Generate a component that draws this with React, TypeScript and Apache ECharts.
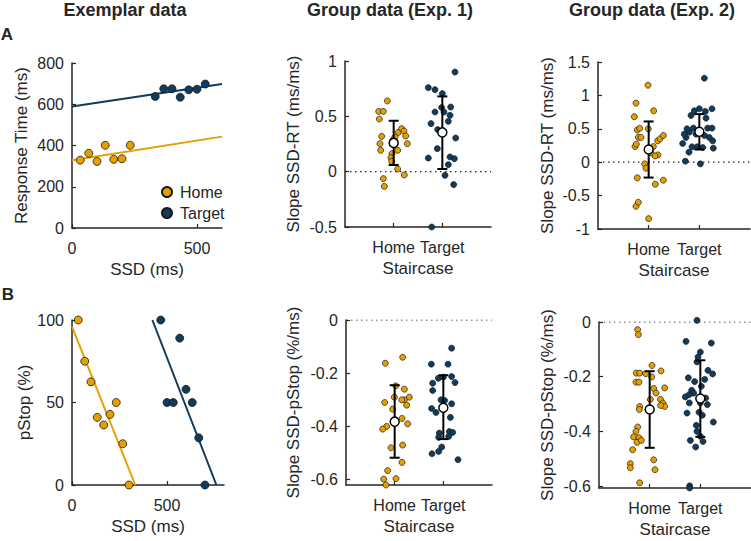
import React, { useEffect, useRef } from "react";
import * as echarts from "echarts";

const HOME = "#E69F00";
const TARGET = "#0F3B5C";
const INK = "#262626";
const FONT = "'Liberation Sans', Arial, Helvetica, sans-serif";

// ---------- Exemplar data (A): SSD vs response time ----------
const rtHomeSSD = [33, 67, 100, 133, 167, 200, 233];
const rtHomeRT = [329, 362, 323, 401, 333, 336, 401];
const rtTargetSSD = [333, 367, 400, 433, 467, 500, 533];
const rtTargetRT = [638, 675, 675, 634, 670, 673, 698];
const rtHomeFit = [[0, 329], [600, 443]];
const rtTargetFit = [[0, 589], [600, 698]];

// ---------- Exemplar data (B): SSD vs pStop ----------
const psHomeSSD = [33, 67, 100, 133, 167, 200, 233, 267, 300];
const psHomeP = [100, 75, 62.5, 41, 36.4, 42.8, 50, 25, 0];
const psTargetSSD = [467, 500, 533, 567, 600, 633, 667, 700];
const psTargetP = [100, 50, 50, 89, 58, 50, 28.6, 0];
const psHomeFit = [[0, 96], [333, 0]];
const psTargetFit = [[423, 100], [760, 0]];

// ---------- Group categories ----------
const staircaseCats = ["Home", "Target"];

// Group Exp. 1, slope SSD-RT: [jittered position, slope]
const e1RtHome = [
  [0.705, 0.476], [0.753, 0.319], [0.719, 0.253], [0.733, 0.193], [0.788, -0.063],
  [0.808, -0.133], [0.692, 0.545], [0.788, 0.545], [0.87, 0.639], [0.966, 0.163],
  [0.945, 0.126], [0.959, 0.093], [0.979, 0.283], [1.027, 0.313], [1.096, 0.355],
  [1.082, 0.193], [1.082, 0.024], [1.164, 0.389], [1.212, 0.367], [1.247, 0.322],
  [1.281, 0.253], [1.219, -0.03],
];
const e1RtTarget = [
  [1.712, 0.759], [1.849, 0.741], [2.0, 0.705], [2.26, 0.9], [1.849, 0.539],
  [1.986, 0.58], [2.034, 0.539], [2.171, 0.584], [2.158, 0.509], [2.123, 0.455],
  [1.767, 0.434], [1.904, 0.38], [1.897, 0.208], [1.712, 0.123], [2.274, 0.304],
  [2.158, 0.133], [2.247, 0.117], [2.123, 0.063], [2.055, -0.033], [2.233, -0.117],
  [1.781, -0.5],
];
const e1RtMean = [0.26, 0.355];
const e1RtLo = [0.06, 0.024];
const e1RtHi = [0.46, 0.68];

// Group Exp. 2, slope SSD-RT
const e2RtHome = [
  [0.987, 1.153], [0.75, 0.885], [0.717, 0.681], [1.099, 0.77], [0.776, 0.482],
  [0.822, 0.507], [0.993, 0.5], [0.796, 0.373], [0.849, 0.37], [0.73, 0.234],
  [0.757, 0.27], [1.092, 0.234], [1.046, 0.14], [1.184, 0.109], [1.125, 0.094],
  [1.178, 0.32], [1.224, 0.35], [1.289, 0.4], [0.921, -0.025], [0.947, -0.09],
  [0.776, -0.234], [1.132, -0.33], [1.289, -0.27], [0.75, -0.66], [0.796, -0.6],
  [1.0, -0.845],
];
const e2RtTarget = [
  [2.099, 1.257], [1.724, 0.015], [2.02, -0.025], [1.796, 0.15], [1.671, 0.28],
  [1.737, 0.37], [1.803, 0.45], [1.882, 0.51], [1.704, 0.42], [1.836, 0.7],
  [1.901, 0.77], [2.0, 0.8], [2.118, 0.76], [2.25, 0.8], [2.132, 0.66],
  [2.164, 0.51], [2.25, 0.51], [2.263, 0.32], [2.276, 0.21], [2.066, 0.22],
  [1.954, 0.23], [1.855, 0.23], [2.197, 0.37], [1.934, 0.42], [2.099, 0.4],
  [1.757, 0.5],
];
const e2RtMean = [0.19, 0.455];
const e2RtLo = [-0.23, 0.19];
const e2RtHi = [0.61, 0.72];

// Group Exp. 1, slope SSD-pStop
const e1PsHome = [
  [0.808, -0.1625], [1.164, -0.14], [1.021, -0.2475], [1.199, -0.26], [1.301, -0.29],
  [1.199, -0.3], [1.144, -0.3], [1.247, -0.32], [0.795, -0.31], [0.959, -0.335],
  [0.993, -0.29], [1.151, -0.37], [1.267, -0.39], [0.836, -0.4], [0.753, -0.41],
  [0.925, -0.48], [1.164, -0.47], [1.151, -0.535], [0.856, -0.566], [0.774, -0.598],
  [1.027, -0.596], [0.822, -0.62],
];
const e1PsTarget = [
  [2.171, -0.106], [1.753, -0.166], [2.096, -0.166], [1.897, -0.219], [2.0, -0.215],
  [2.171, -0.2125], [2.24, -0.235], [1.781, -0.2375], [1.781, -0.265], [1.952, -0.3],
  [2.027, -0.3025], [2.171, -0.315], [1.76, -0.3325], [1.849, -0.3475], [2.144, -0.366],
  [2.123, -0.419], [1.918, -0.425], [1.904, -0.441], [2.192, -0.4225], [1.966, -0.4775],
  [1.904, -0.494], [1.767, -0.5025], [2.301, -0.525], [2.11, -0.4375],
];
const e1PsMean = [-0.382, -0.33];
const e1PsLo = [-0.5175, -0.4475];
const e1PsHi = [-0.245, -0.2075];

// Group Exp. 2, slope SSD-pStop
const e2PsHome = [
  [0.763, -0.028], [0.776, -0.046], [1.046, -0.159], [1.224, -0.179], [0.737, -0.187],
  [0.803, -0.187], [0.921, -0.189], [1.039, -0.201], [0.73, -0.22], [0.789, -0.22],
  [1.296, -0.241], [1.079, -0.243], [1.125, -0.26], [1.013, -0.283], [1.211, -0.283],
  [1.263, -0.296], [1.296, -0.309], [1.217, -0.305], [0.803, -0.309], [0.796, -0.32],
  [0.763, -0.384], [0.73, -0.4], [0.684, -0.42], [0.789, -0.423], [0.75, -0.44],
  [0.836, -0.433], [0.664, -0.467], [1.079, -0.504], [0.618, -0.518], [0.618, -0.533],
  [1.105, -0.54], [0.803, -0.588],
];
const e2PsTarget = [
  [1.934, 0.006], [1.717, -0.071], [2.217, -0.077], [2.0, -0.11], [1.954, -0.128],
  [1.934, -0.146], [2.151, -0.177], [2.243, -0.19], [2.086, -0.21], [1.763, -0.204],
  [1.888, -0.218], [2.02, -0.235], [1.829, -0.25], [1.868, -0.26], [1.776, -0.266],
  [1.704, -0.274], [2.105, -0.278], [1.974, -0.28], [1.783, -0.296], [2.0, -0.296],
  [2.138, -0.302], [1.974, -0.33], [1.737, -0.333], [2.039, -0.341], [2.257, -0.366],
  [1.921, -0.378], [1.934, -0.4], [1.803, -0.433], [2.0, -0.418], [2.053, -0.437],
  [1.908, -0.457], [1.789, -0.599], [1.789, -0.607],
];
const e2PsMean = [-0.32, -0.28];
const e2PsLo = [-0.46, -0.42];
const e2PsHi = [-0.18, -0.14];

// ---------- Tick values ----------
const rtTicks = [0, 200, 400, 600, 800];
const ssdTicks = [0, 500];
const pStopTicks = [0, 50, 100];
const e1RtTicks = [-0.5, 0, 0.5, 1];
const e2RtTicks = [-1, -0.5, 0, 0.5, 1, 1.5];
const psSlopeTicks = [-0.6, -0.4, -0.2, 0];
const catTicks = [1, 2];

const zip = (a: number[], b: number[]) => a.map((v, i) => [v, b[i]]);

function axisBase(gridIndex: number, min: number, max: number, ticks: number[], isX: boolean, formatter?: (v: number) => string) {
  return {
    type: "value",
    gridIndex,
    min,
    max,
    axisLine: { show: true, onZero: false, lineStyle: { color: INK, width: 1.5 } },
    axisTick: { show: true, inside: true, length: 4, customValues: ticks, lineStyle: { color: INK, width: 1.2 } },
    axisLabel: {
      show: true,
      customValues: ticks,
      color: INK,
      fontSize: 16,
      fontFamily: FONT,
      margin: isX ? 12 : 8,
      formatter: formatter || ((v: number) => String(v)),
    },
    splitLine: { show: false },
    nameLocation: "middle",
    nameTextStyle: { color: INK, fontSize: 17, fontFamily: FONT },
  };
}

const errRender = (params: any, api: any) => {
  const x = api.value(0);
  const pLo = api.coord([x, api.value(1)]);
  const pHi = api.coord([x, api.value(2)]);
  const cap = 5;
  const st = { stroke: "#000", lineWidth: 2 };
  return {
    type: "group",
    children: [
      { type: "line", shape: { x1: pLo[0], y1: pLo[1], x2: pHi[0], y2: pHi[1] }, style: st },
      { type: "line", shape: { x1: pLo[0] - cap, y1: pLo[1], x2: pLo[0] + cap, y2: pLo[1] }, style: st },
      { type: "line", shape: { x1: pHi[0] - cap, y1: pHi[1], x2: pHi[0] + cap, y2: pHi[1] }, style: st },
    ],
  };
};

function groupSeries(idx: number, tag: string, home: number[][], target: number[][], mean: number[], lo: number[], hi: number[]) {
  return [
    {
      type: "line", name: tag + "-zero", xAxisIndex: idx, yAxisIndex: idx,
      data: [[0, 0], [3, 0]], symbol: "none", silent: true, z: 1,
      lineStyle: { color: INK, width: 1.2, type: [1.5, 3.5] },
    },
    {
      type: "scatter", name: tag + "-home", xAxisIndex: idx, yAxisIndex: idx, data: home,
      symbolSize: 6, clip: false, z: 2,
      itemStyle: { color: HOME, borderColor: "#1a1a1a", borderWidth: 0.7, opacity: 1 },
    },
    {
      type: "scatter", name: tag + "-target", xAxisIndex: idx, yAxisIndex: idx, data: target,
      symbolSize: 6, clip: false, z: 2,
      itemStyle: { color: TARGET, borderColor: "#1a1a1a", borderWidth: 0.7, opacity: 1 },
    },
    {
      type: "custom", name: tag + "-err", xAxisIndex: idx, yAxisIndex: idx,
      data: catTicks.map((c, i) => [c, lo[i], hi[i]]),
      encode: { x: 0, y: [1, 2] }, renderItem: errRender, z: 3, clip: false,
    },
    {
      type: "scatter", name: tag + "-mean", xAxisIndex: idx, yAxisIndex: idx,
      data: catTicks.map((c, i) => [c, mean[i]]),
      symbolSize: 9, clip: false, z: 4,
      itemStyle: { color: "#ffffff", borderColor: "#000", borderWidth: 1.5, opacity: 1 },
    },
  ];
}

const catFmt = (v: number) => (v === 1 ? staircaseCats[0] : v === 2 ? staircaseCats[1] : "");

export default function App() {
  const ref = useRef<HTMLDivElement>(null);
  useEffect(() => {
    if (!ref.current) return;
    const chart = echarts.init(ref.current, undefined, { renderer: "svg" });

    const grids = [
      { left: 72, top: 63, width: 150, height: 165 },
      { left: 345, top: 61, width: 146, height: 166 },
      { left: 598, top: 62, width: 152, height: 167 },
      { left: 72, top: 320, width: 152, height: 165 },
      { left: 346, top: 320, width: 146, height: 165 },
      { left: 599, top: 322, width: 152, height: 166 },
    ];

    const xAxis = [
      { ...axisBase(0, 0, 600, ssdTicks, true), name: "SSD (ms)", nameGap: 33 },
      { ...axisBase(1, 0, 3, catTicks, true, catFmt), name: "Staircase", nameGap: 33 },
      { ...axisBase(2, 0, 3, catTicks, true, catFmt), name: "Staircase", nameGap: 33 },
      { ...axisBase(3, 0, 800, ssdTicks, true), name: "SSD (ms)", nameGap: 33 },
      { ...axisBase(4, 0, 3, catTicks, true, catFmt), name: "Staircase", nameGap: 33 },
      { ...axisBase(5, 0, 3, catTicks, true, catFmt), name: "Staircase", nameGap: 33 },
    ];
    const yAxis = [
      { ...axisBase(0, 0, 800, rtTicks, false), name: "Response Time (ms)", nameGap: 42 },
      { ...axisBase(1, -0.5, 1, e1RtTicks, false), name: "Slope SSD-RT (ms/ms)", nameGap: 43 },
      { ...axisBase(2, -1, 1.5, e2RtTicks, false), name: "Slope SSD-RT (ms/ms)", nameGap: 42 },
      { ...axisBase(3, 0, 100, pStopTicks, false), name: "pStop (%)", nameGap: 39 },
      { ...axisBase(4, -0.62, 0, psSlopeTicks, false), name: "Slope SSD-pStop (%/ms)", nameGap: 44 },
      { ...axisBase(5, -0.607, 0, psSlopeTicks, false), name: "Slope SSD-pStop (%/ms)", nameGap: 43 },
    ];

    const fitLine = (idx: number, name: string, data: number[][], color: string) => ({
      type: "line", name, xAxisIndex: idx, yAxisIndex: idx, data, symbol: "none", silent: true, z: 1,
      lineStyle: { color, width: 2 },
    });
    const exScatter = (idx: number, name: string, data: number[][], color: string) => ({
      type: "scatter", name, xAxisIndex: idx, yAxisIndex: idx, data, symbolSize: 8, clip: false, z: 2,
      itemStyle: { color, borderColor: "#1a1a1a", borderWidth: 0.8, opacity: 1 },
    });

    const series: any[] = [
      fitLine(0, "fit-rt-home", rtHomeFit, HOME),
      fitLine(0, "fit-rt-target", rtTargetFit, TARGET),
      exScatter(0, "Home", zip(rtHomeSSD, rtHomeRT), HOME),
      exScatter(0, "Target", zip(rtTargetSSD, rtTargetRT), TARGET),
      fitLine(3, "fit-ps-home", psHomeFit, HOME),
      fitLine(3, "fit-ps-target", psTargetFit, TARGET),
      exScatter(3, "ps-home", zip(psHomeSSD, psHomeP), HOME),
      exScatter(3, "ps-target", zip(psTargetSSD, psTargetP), TARGET),
      ...groupSeries(1, "e1rt", e1RtHome, e1RtTarget, e1RtMean, e1RtLo, e1RtHi),
      ...groupSeries(2, "e2rt", e2RtHome, e2RtTarget, e2RtMean, e2RtLo, e2RtHi),
      ...groupSeries(4, "e1ps", e1PsHome, e1PsTarget, e1PsMean, e1PsLo, e1PsHi),
      ...groupSeries(5, "e2ps", e2PsHome, e2PsTarget, e2PsMean, e2PsLo, e2PsHi),
    ];

    const titleText = (text: string, x: number, y: number, size = 18) => ({
      type: "text",
      x,
      y,
      style: {
        text,
        font: `bold ${size}px ${FONT}`,
        fill: INK,
        align: "center",
        verticalAlign: "middle",
        textAlign: "center",
        textVerticalAlign: "middle",
      },
    });

    chart.setOption({
      animation: false,
      backgroundColor: "#ffffff",
      grid: grids,
      xAxis,
      yAxis,
      series,
      legend: {
        data: ["Home", "Target"],
        orient: "vertical",
        left: 161,
        top: 184,
        padding: 0,
        itemWidth: 10,
        itemHeight: 10,
        itemGap: 5,
        icon: "circle",
        selectedMode: false,
        textStyle: { color: INK, fontSize: 16, fontFamily: FONT, lineHeight: 16, padding: [0, 0, 0, 3] },
      },
      graphic: [
        titleText("Exemplar data", 125, 10),
        titleText("Group data (Exp. 1)", 390, 10),
        titleText("Group data (Exp. 2)", 652, 10),
        titleText("A", 7, 34, 17),
        titleText("B", 8, 294, 17),
      ],
    });
    return () => chart.dispose();
  }, []);

  return (
    <div
      ref={ref}
      style={{ position: "absolute", left: 0, top: 0, width: 751, height: 541, background: "#fff" }}
    />
  );
}
